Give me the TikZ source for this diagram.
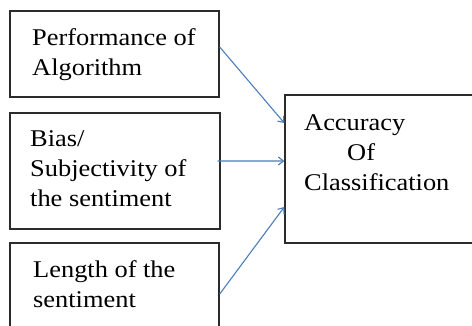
\documentclass[tikz,border=0pt]{standalone}
\usepackage{fontspec}
\setmainfont{Liberation Serif}[FakeStretch=1.1]
\usetikzlibrary{arrows.meta}
\definecolor{arrowblue}{HTML}{4A7EBB}
\definecolor{boxline}{HTML}{2B2B2B}
\tikzset{
  box/.style={draw=boxline, line width=1.4bp, rectangle, inner sep=0pt},
  lbl/.style={anchor=base west, inner sep=0pt, align=left,
    font=\fontsize{24bp}{30bp}\selectfont},
  conn/.style={draw=arrowblue, line width=1.1bp,
    -{Straight Barb[length=5bp,width=8bp,line width=1.1bp]}}
}
\begin{document}
\begin{tikzpicture}[x=1bp,y=-1bp]
\useasboundingbox (0,0) rectangle (472,325);
\clip (0,0) rectangle (472,325);
\node[box, minimum width=209bp, minimum height=86bp] (b1) at (114.5,54) {};
\node[box, minimum width=210bp, minimum height=116bp] (b2) at (115,171) {};
\node[box, minimum width=209bp, minimum height=100bp] (b3) at (114.5,293) {};
\node[box, minimum width=200bp, minimum height=148bp] (acc) at (385,169) {};
\node[lbl] (t1) at (32,75) {Performance of\\Algorithm};
\node[lbl] (t2) at (30,206) {Bias/\\Subjectivity of\\the sentiment};
\node[lbl] (t3) at (33,307) {Length of the\\sentiment};
\node[lbl] (t4) at (304,190) {Accuracy\\\hspace*{43bp}Of\\Classification};
\draw[conn] ([yshift=7bp]b1.east) -- ([yshift=46bp]acc.west);
\draw[conn] ([yshift=10bp,xshift=-3bp]b2.east) -- ([yshift=8bp]acc.west);
\draw[conn] ([yshift=-1bp]b3.east) -- ([yshift=-38bp]acc.west);
\end{tikzpicture}
\end{document}
